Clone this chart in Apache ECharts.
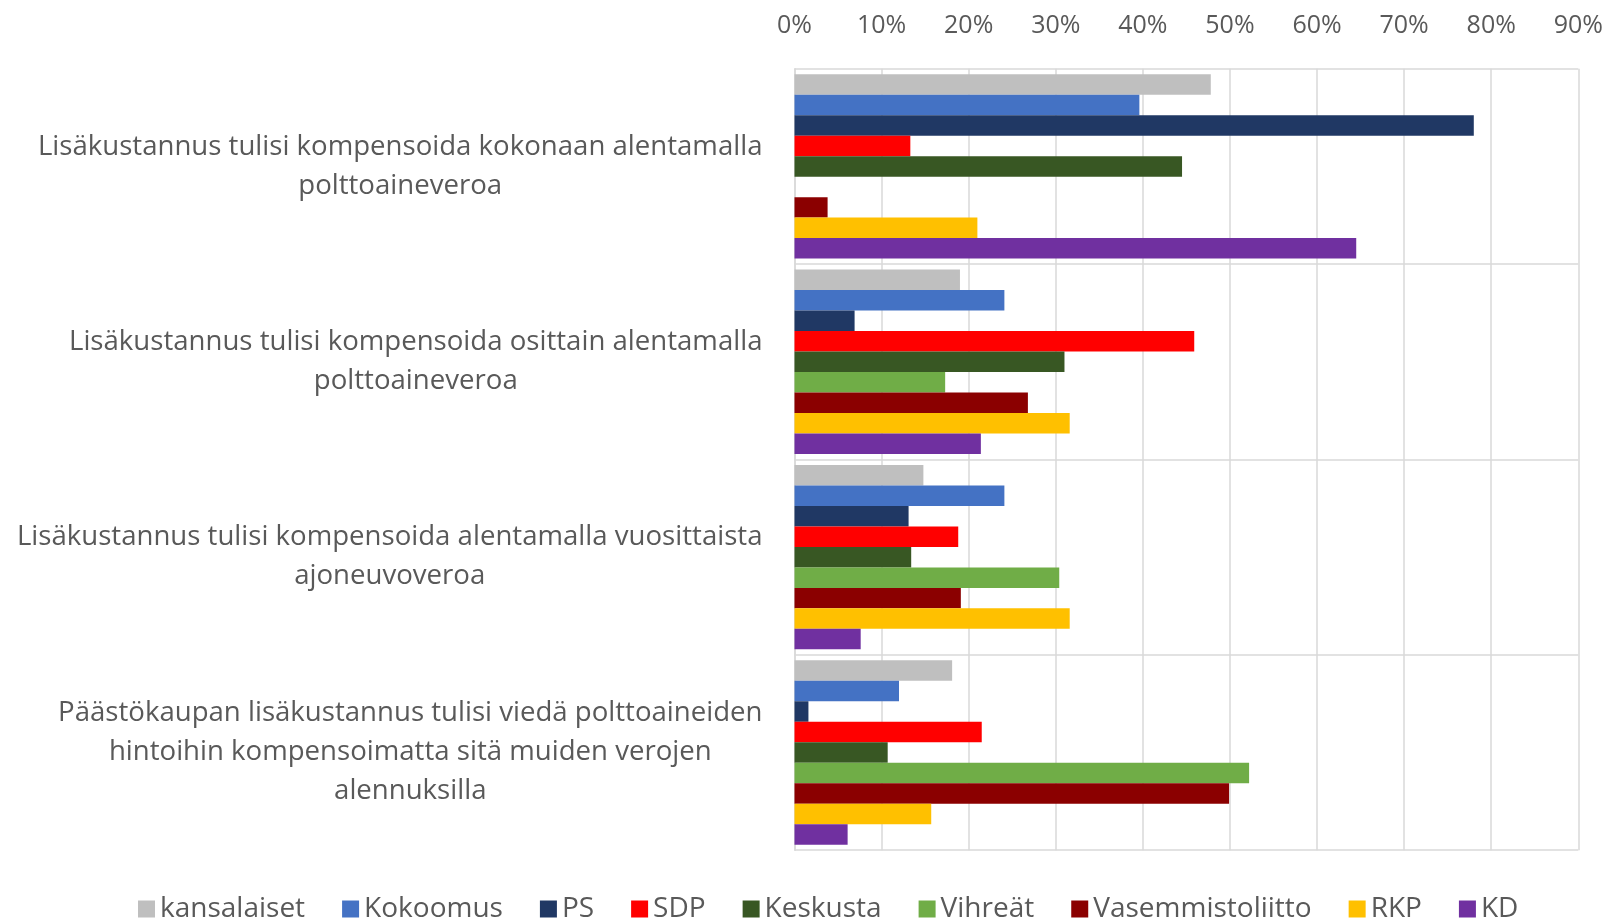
<!DOCTYPE html>
<html>
<head>
<meta charset="utf-8">
<script src="https://cdn.jsdelivr.net/npm/echarts@6/dist/echarts.min.js"></script>
<style>
  html, body { margin: 0; padding: 0; background: #fff; }
  #chart { width: 1608px; height: 922px; }
</style>
</head>
<body>
<div id="chart"></div>
<script>
// kysymykset (y-akseli)
var categories = [
  'Lisäkustannus tulisi kompensoida kokonaan alentamalla\npolttoaineveroa',
  'Lisäkustannus tulisi kompensoida osittain alentamalla\npolttoaineveroa',
  'Lisäkustannus tulisi kompensoida alentamalla vuosittaista\najoneuvoveroa',
  'Päästökaupan lisäkustannus tulisi viedä polttoaineiden\nhintoihin kompensoimatta sitä muiden verojen\nalennuksilla'
];
var xTicks = ['0%', '10%', '20%', '30%', '40%', '50%', '60%', '70%', '80%', '90%'];

// osuudet prosentteina, järjestys = categories
var kansalaiset = [47.8, 19.0, 14.8, 18.1];
var kokoomus = [39.6, 24.1, 24.1, 12.0];
var ps = [78.0, 6.9, 13.1, 1.6];
var sdp = [13.3, 45.9, 18.8, 21.5];
var keskusta = [44.5, 31.0, 13.4, 10.7];
var vihreat = [null, 17.3, 30.4, 52.2];
var vasemmistoliitto = [3.8, 26.8, 19.1, 49.9];
var rkp = [21.0, 31.6, 31.6, 15.7];
var kd = [64.5, 21.4, 7.6, 6.1];

var seriesNames = ['kansalaiset', 'Kokoomus', 'PS', 'SDP', 'Keskusta', 'Vihreät', 'Vasemmistoliitto', 'RKP', 'KD'];
var seriesData = [kansalaiset, kokoomus, ps, sdp, keskusta, vihreat, vasemmistoliitto, rkp, kd];
var colors = ['#BFBFBF', '#4472C4', '#203864', '#FF0000', '#385723', '#70AD47', '#8B0000', '#FFC000', '#7030A0'];

var font = 'Open Sans';
var textColor = '#595959';

var series = [];
for (var i = 0; i < seriesNames.length; i++) {
  series.push({
    name: seriesNames[i],
    type: 'bar',
    data: seriesData[i],
    itemStyle: { color: colors[i] },
    barGap: '0%',
    barCategoryGap: '5.6%'
  });
}

var chart = echarts.init(document.getElementById('chart'));
chart.setOption({
  animation: false,
  textStyle: { fontFamily: font },
  grid: {
    left: 794.5,
    right: 29.7,
    top: 68.7,
    bottom: 71.8
  },
  legend: {
    data: seriesNames,
    top: 890,
    left: 133,
    itemWidth: 17,
    itemHeight: 17,
    itemGap: 37,
    icon: 'rect',
    textStyle: { color: textColor, fontSize: 28, fontFamily: font }
  },
  xAxis: {
    type: 'value',
    position: 'top',
    min: 0,
    max: 90,
    interval: 10,
    axisLine: { show: false },
    axisTick: { show: false },
    splitLine: { lineStyle: { color: '#D9D9D9', width: 1.5 } },
    axisLabel: {
      margin: 30,
      color: textColor,
      fontSize: 25,
      fontFamily: font,
      formatter: function (v) { return xTicks[Math.round(v / 10)]; }
    }
  },
  yAxis: {
    type: 'category',
    inverse: true,
    data: categories,
    axisLine: { show: true, lineStyle: { color: '#D9D9D9', width: 1.5 } },
    axisTick: { show: false },
    splitLine: { show: true, lineStyle: { color: '#D9D9D9', width: 1.5 } },
    axisLabel: {
      margin: 32,
      color: textColor,
      fontSize: 27.6,
      fontFamily: font,
      lineHeight: 39,
      align: 'right',
      formatter: function (v) {
        return v.split('\n').map(function (s) { return '{c|' + s + '}'; }).join('\n');
      },
      rich: {
        c: { align: 'center', color: textColor, fontSize: 27.6, fontFamily: font, lineHeight: 39 }
      }
    }
  },
  series: series
});
</script>
</body>
</html>
